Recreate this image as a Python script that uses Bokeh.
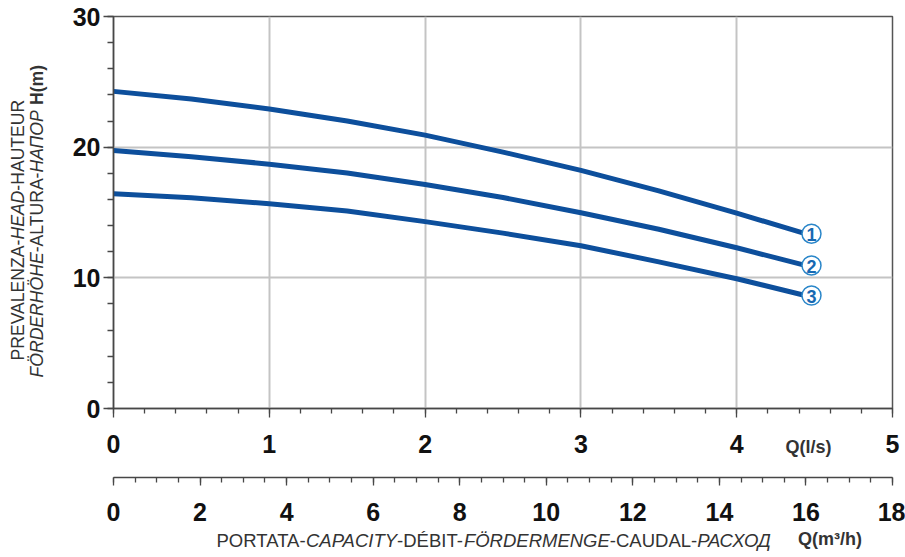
import numpy as np
from bokeh.plotting import figure
from bokeh.layouts import column
from bokeh.models import Range1d, LinearAxis, FixedTicker, ColumnDataSource, GridBox
from bokeh.core.properties import value
from bokeh.embed import file_html
from bokeh.resources import INLINE

# Pump curves: flow Q in l/s against head H in m, one curve per impeller
q_ls = [0, 0.5, 1, 1.5, 2, 2.5, 3, 3.5, 4, 4.44]
head_1 = [24.27, 23.68, 22.92, 22.0, 20.92, 19.62, 18.22, 16.66, 14.95, 13.38]
head_2 = [19.75, 19.27, 18.70, 18.02, 17.15, 16.15, 14.98, 13.72, 12.30, 10.95]
head_3 = [16.44, 16.13, 15.67, 15.11, 14.30, 13.42, 12.46, 11.22, 9.93, 8.65]
curve_ids = ["1", "2", "3"]

h_ticks = [0, 10, 20, 30]
q_ls_ticks = [0, 1, 2, 3, 4, 5]
q_m3h_ticks = [0, 2, 4, 6, 8, 10, 12, 14, 16, 18]

W, H = 905, 557
FONT = "Liberation Sans"
LINE_BLUE = "#0d4f9c"
BADGE_BLUE = "#2a86c9"
BADGE_TEXT = "#1769b2"
AXIS_GRAY = "#474747"
TEXT_GRAY = "#333333"

p = figure(width=W, height=H, output_backend="svg", toolbar_location=None,
           x_range=Range1d(0, 5), y_range=Range1d(0, 30),
           min_border_left=113, min_border_right=13, min_border_top=16,
           min_border_bottom=149, x_axis_location=None, y_axis_location=None)
p.background_fill_color = "white"
p.border_fill_color = "white"
p.outline_line_color = "#555555"
p.outline_line_width = 1.5

# ---- axes -------------------------------------------------------------
def style_axis(ax, major_out, minor_out):
    ax.axis_line_color = AXIS_GRAY
    ax.axis_line_width = 1.5
    ax.major_tick_line_color = AXIS_GRAY
    ax.minor_tick_line_color = AXIS_GRAY
    ax.major_tick_line_width = 1.3
    ax.minor_tick_line_width = 1.3
    ax.major_tick_in = 0
    ax.minor_tick_in = 0
    ax.major_tick_out = major_out
    ax.minor_tick_out = minor_out
    ax.major_label_text_font = FONT
    ax.major_label_text_font_style = "bold"
    ax.major_label_text_font_size = "25px"
    ax.major_label_text_color = "#111111"

y_axis = LinearAxis(ticker=FixedTicker(ticks=h_ticks,
                                       minor_ticks=list(np.arange(0, 31, 2))))
style_axis(y_axis, 10, 6)
y_axis.major_label_standoff = 3
p.add_layout(y_axis, "left")

x_axis = LinearAxis(ticker=FixedTicker(ticks=q_ls_ticks,
                                       minor_ticks=[round(v, 1) for v in np.arange(0, 5.01, 0.2)]))
style_axis(x_axis, 9, 5)
x_axis.major_label_standoff = 17
# transparent label keeps room between the two flow scales
x_axis.axis_label = "Q"
x_axis.axis_label_text_alpha = 0
x_axis.axis_label_text_font_size = "12px"
x_axis.axis_label_standoff = 5
p.add_layout(x_axis, "below")

p.extra_x_ranges = {"m3h": Range1d(0, 18)}
x2_axis = LinearAxis(x_range_name="m3h",
                     ticker=FixedTicker(ticks=q_m3h_ticks,
                                        minor_ticks=list(np.arange(0, 18.01, 0.5))))
style_axis(x2_axis, 8, 5)
x2_axis.major_label_standoff = 17
p.add_layout(x2_axis, "below")

# ---- grid -------------------------------------------------------------
p.xgrid.ticker = FixedTicker(ticks=q_ls_ticks)
p.ygrid.ticker = FixedTicker(ticks=h_ticks)
for g in (p.xgrid[0], p.ygrid[0]):
    g.grid_line_color = "#c4c4c4"
    g.grid_line_width = 2

# ---- curves -----------------------------------------------------------
heads = [head_1, head_2, head_3]
for h in heads:
    p.line(q_ls, h, line_color=LINE_BLUE, line_width=5, line_join="round")

badge_dq = 0.04  # badge centre sits just past the curve end
badges = ColumnDataSource(dict(
    x=[q_ls[-1] + badge_dq] * 3,
    y=[h[-1] for h in heads],
    t=curve_ids,
))
p.scatter("x", "y", source=badges, marker="circle", size=19,
          fill_color="white", line_color=BADGE_BLUE, line_width=1.5)
p.text("x", "y", text="t", source=badges, text_align="center",
       text_baseline="middle", text_font=value(FONT), text_font_style="bold",
       text_font_size="18px", text_color=BADGE_TEXT, y_offset=1)

# ---- axis titles: transparent overlay in canvas pixels ----------------
ADV = {  # Liberation Sans advance widths, 1/1000 em
    "A": 667, "B": 667, "C": 722, "D": 722, "E": 667, "F": 611, "G": 778,
    "H": 722, "I": 278, "L": 556, "M": 833, "N": 722, "O": 778, "P": 667,
    "R": 722, "S": 667, "T": 611, "U": 722, "V": 667, "Y": 667, "Z": 611,
    "É": 667, "Ö": 778, "-": 333, " ": 278,
    "А": 667, "Д": 677, "Н": 722, "О": 778, "П": 719, "Р": 667, "С": 722, "Х": 667,
}
KERN = {"TA": -74, "AT": -74, "PA": -74, "VA": -74, "AV": -74, "LT": -74,
        "AY": -74, "YA": -74, "РА": -74}

def advance(s, size):
    w = sum(ADV[c] for c in s) + sum(KERN.get(s[i:i + 2], 0) for i in range(len(s) - 1))
    return w * size / 1000.0

titles = dict(x=[], y=[], text=[], style=[], angle=[], align=[], size=[])

def add_piece(x, y, txt, style, angle, size, align="left"):
    titles["x"].append(x)
    titles["y"].append(H - y)
    titles["text"].append(txt)
    titles["style"].append(style)
    titles["angle"].append(angle)
    titles["align"].append(align)
    titles["size"].append(f"{size}px")

def add_run(pieces, x0, y0, vertical, size):
    pos = 0.0
    for txt, style in pieces:
        if vertical:
            add_piece(x0, y0 - pos, txt, style, np.pi / 2, size)
        else:
            add_piece(x0 + pos, y0, txt, style, 0.0, size)
        pos += advance(txt, size)
    return pos

V_SIZE = 17.6
add_run([("PREVALENZA-", "normal"), ("HEAD", "italic"), ("-HAUTEUR", "normal")],
        17.5, 360, True, V_SIZE)
end2 = add_run([("FÖRDERHÖHE", "italic"), ("-ALTURA-", "normal"), ("НАПОР", "italic")],
               36.5, 377, True, V_SIZE)
add_piece(36.5, 377 - end2 - advance(" ", V_SIZE), "H(m)", "bold", np.pi / 2, V_SIZE)

add_run([("PORTATA-", "normal"), ("CAPACITY", "italic"), ("-DÉBIT-", "normal"),
         ("FÖRDERMENGE", "italic"), ("-CAUDAL-", "normal"), ("РАСХОД", "italic")],
        216, 540, False, 18.5)
add_piece(808, 446, "Q(l/s)", "bold", 0.0, 18, "center")
add_piece(829.5, 538, "Q(m³/h)", "bold", 0.0, 18, "center")

ov = figure(width=W, height=H, output_backend="svg", toolbar_location=None,
            x_range=Range1d(0, W), y_range=Range1d(0, H), min_border=0,
            x_axis_location=None, y_axis_location=None)
ov.outline_line_color = None
ov.background_fill_color = None
ov.border_fill_color = None
ov.xgrid.visible = False
ov.ygrid.visible = False
ov.text("x", "y", text="text", angle="angle", source=ColumnDataSource(titles),
        text_font=value(FONT), text_font_style="style", text_font_size="size",
        text_color=TEXT_GRAY, text_align="align", text_baseline="alphabetic")

# the overlay sits in its own column so its frame is not aligned with the chart's
layout = GridBox(children=[(p, 0, 0), (column(ov), 0, 0)])
open("out.html", "w").write(file_html(layout, INLINE))
